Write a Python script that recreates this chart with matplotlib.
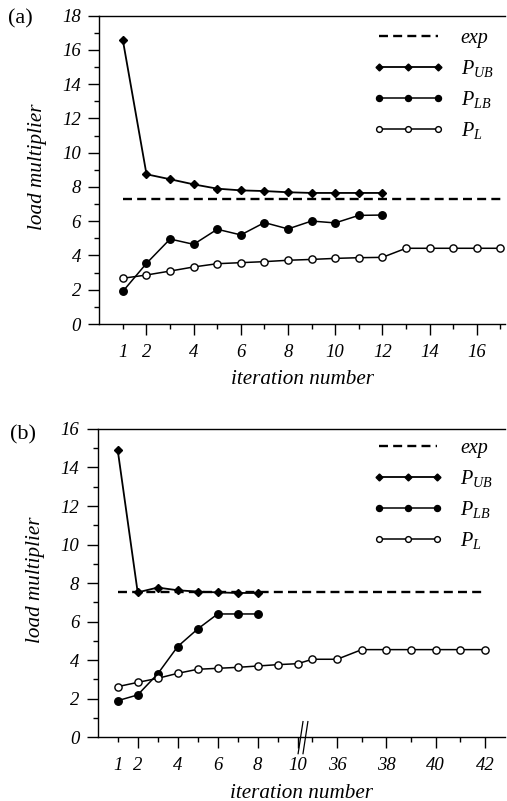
import numpy as np
import matplotlib
matplotlib.use("Agg")
import matplotlib.pyplot as plt
from matplotlib.ticker import FixedLocator, FixedFormatter

plt.rcParams["font.family"] = ["Liberation Serif", "DejaVu Serif"]
plt.rcParams["font.style"] = "italic"
plt.rcParams["font.size"] = 13.5
plt.rcParams["mathtext.fontset"] = "custom"
plt.rcParams["mathtext.it"] = "Liberation Serif:italic"
plt.rcParams["mathtext.rm"] = "Liberation Serif:italic"

# panel (a) data
iter_a = list(range(1, 18))
a_ub = [16.55, 8.74, 8.45, 8.15, 7.90, 7.80, 7.76, 7.69, 7.65, 7.65, 7.65, 7.65]
a_lb = [1.91, 3.54, 4.96, 4.65, 5.53, 5.20, 5.92, 5.55, 6.01, 5.90, 6.34, 6.36]
a_l = [2.67, 2.86, 3.09, 3.33, 3.52, 3.58, 3.64, 3.72, 3.77, 3.83, 3.87, 3.89,
       4.42, 4.42, 4.42, 4.42, 4.42]
a_exp = 7.3
a_exp_x = [1, 17.2]

# panel (b) data
iter_b = list(range(1, 9))
b_ub = [14.91, 7.52, 7.77, 7.63, 7.56, 7.52, 7.49, 7.49]
b_lb = [1.90, 2.20, 3.29, 4.71, 5.62, 6.40, 6.40, 6.40]
iter_b_l = [1, 2, 3, 4, 5, 6, 7, 8, 9, 10, 35, 36, 37, 38, 39, 40, 41, 42]
b_l = [2.63, 2.85, 3.06, 3.32, 3.53, 3.58, 3.63, 3.70, 3.77, 3.82,
       4.05, 4.05, 4.55, 4.55, 4.55, 4.55, 4.55, 4.55]
b_exp = 7.55
b_exp_x = [1, 41.9]

labels = ["exp", "$P_{UB}$", "$P_{LB}$", "$P_{L}$"]


# broken x scale for panel (b): 1..10 then jump to 35..42
def fwd(x):
    x = np.asarray(x, dtype=float)
    return np.where(x <= 10, x,
                    np.where(x <= 35, 10 + (x - 10) * 0.74 / 25,
                             10.74 + (x - 35) * 1.233))


def inv(p):
    p = np.asarray(p, dtype=float)
    return np.where(p <= 10, p,
                    np.where(p <= 10.74, 10 + (p - 10) * 25 / 0.74,
                             35 + (p - 10.74) / 1.233))


def style_axes(ax, majors, minors, minor_labels, ymax):
    ax.spines["right"].set_visible(False)
    for s in ["left", "bottom", "top"]:
        ax.spines[s].set_linewidth(1.0)
    ax.xaxis.set_major_locator(FixedLocator(majors))
    ax.xaxis.set_major_formatter(FixedFormatter([str(m) for m in majors]))
    ax.xaxis.set_minor_locator(FixedLocator(minors))
    ax.xaxis.set_minor_formatter(FixedFormatter(minor_labels))
    ax.set_yticks(range(0, ymax + 1, 2))
    ax.set_yticks(range(1, ymax, 2), minor=True)
    ax.tick_params(axis="both", which="major", direction="out", length=7.7,
                   width=1.0, pad=6.5)
    ax.tick_params(axis="x", which="minor", direction="out", length=3.6,
                   width=1.0, pad=10.6)
    ax.tick_params(axis="y", which="minor", direction="out", length=3.6,
                   width=1.0)
    ax.tick_params(axis="y", which="major", pad=5.5)
    ax.set_ylim(0, ymax)
    ax.set_xlabel("iteration number", fontsize=15.2)
    ax.set_ylabel("load multiplier", va="center", fontsize=15.2)
    ax.yaxis.set_label_coords(-0.153, 0.51)
    ax.xaxis.set_label_coords(0.5, -0.15)


def draw(ax, xe, ye, x_ub, ub, x_lb, lb, x_l, l):
    ax.plot(xe, [ye, ye], color="black", lw=1.7, dashes=(3.8, 2.2),
            label=labels[0])
    ax.plot(x_ub, ub, color="black", lw=1.3, marker="D", ms=4.4,
            label=labels[1])
    ax.plot(x_lb, lb, color="black", lw=1.1, marker="o", ms=5.4,
            label=labels[2])
    ax.plot(x_l, l, color="black", lw=1.1, marker="o", ms=5.2,
            mfc="white", mew=1.0, label=labels[3])


fig = plt.figure(figsize=(5.07, 8.01), dpi=100)

ax1 = fig.add_axes([0.1959, 0.5955, 0.8002, 0.3850])
draw(ax1, a_exp_x, a_exp, iter_a[:12], a_ub, iter_a[:12], a_lb, iter_a, a_l)
style_axes(ax1, list(range(2, 17, 2)), list(range(1, 18, 2)),
           ["1"] + [""] * 8, 18)
ax1.set_xlim(0, 17.2)

ax2 = fig.add_axes([0.1927, 0.0795, 0.8034, 0.3850])
ax2.set_xscale("function", functions=(fwd, inv))
draw(ax2, b_exp_x, b_exp, iter_b, b_ub, iter_b, b_lb, iter_b_l, b_l)
style_axes(ax2, [2, 4, 6, 8, 10, 36, 38, 40, 42],
           [1, 3, 5, 7, 9, 35, 37, 39, 41], ["1"] + [""] * 8, 16)
ax2.set_xlim(0, 42.81)

# axis break marks
for dx in (-0.006, 0.006):
    ax2.plot([0.498 + dx, 0.510 + dx], [-0.053, 0.051],
             transform=ax2.transAxes, color="black", lw=0.9,
             clip_on=False)

for ax, top in ((ax1, 0.957), (ax2, 0.968)):
    ax.legend(loc="upper left", bbox_to_anchor=(0.675, top), frameon=False,
              numpoints=3, markerscale=0.8, handlelength=3.5,
              handletextpad=0.85, labelspacing=0.5, borderpad=0,
              borderaxespad=0, fontsize=14.5)

fig.text(0.016, 0.976, "(a)", fontsize=16, style="normal", va="center")
fig.text(0.020, 0.4576, "(b)", fontsize=16, style="normal", va="center")

fig.savefig("out.png", dpi=100)
